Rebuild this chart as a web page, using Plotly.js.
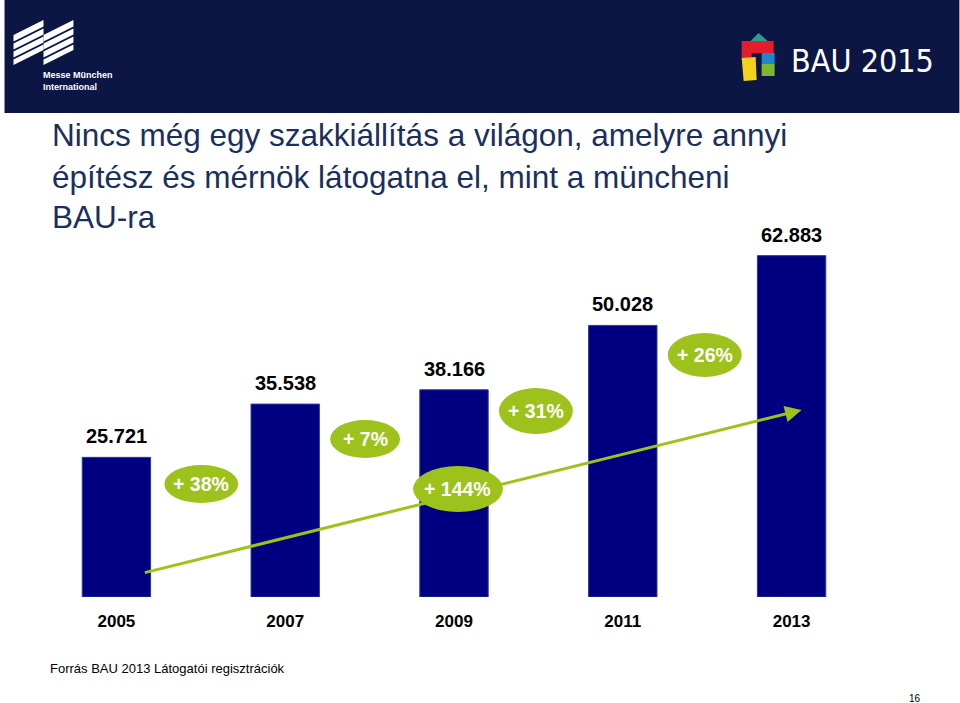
<!DOCTYPE html>
<html>
<head>
<meta charset="utf-8">
<script src="https://cdn.plot.ly/plotly-3.0.1.min.js"></script>
<style>html,body{margin:0;padding:0;background:#fff;}#chart{width:960px;height:703px;}</style>
</head>
<body>
<div id="chart"></div>
<script>
// ---- data ----
const years = ["2005", "2007", "2009", "2011", "2013"];
const visitors = [25721, 35538, 38166, 50028, 62883];
const growthLabels = ["+ 38%", "+ 7%", "+ 144%", "+ 31%", "+ 26%"];
const titleLines = [
  "Nincs még egy szakkiállítás a világon, amelyre annyi",
  "építész és mérnök látogatna el, mint a müncheni",
  "BAU-ra"
];
const sourceText = "Forrás BAU 2013 Látogatói regisztrációk";
const pageNo = "16";

// ---- layout helpers (pixel -> paper) ----
const L = 31.5, R = 876.5, T = 217, B = 597;
const W = R - L, H = B - T;
const px = p => (p - L) / W;
const py = p => (B - p) / H;

const navy = "#000080";
const green = "#9cc21b";
const header = "#0b1645";
const titleColor = "#1a2f5f";

// ellipse placements (layout only): cx, cy, rx, ry
const ellipsePos = [
  [201, 484, 37, 19],
  [365, 439, 35, 19],
  [458, 489, 45, 23],
  [536, 411, 37, 23],
  [705, 355, 37, 22]
];

const shapes = [];
const annotations = [];

// header band
shapes.push({type: "rect", xref: "paper", yref: "paper", x0: px(4), x1: px(960), y0: py(0), y1: py(113),
  fillcolor: header, line: {width: 0}, layer: "below"});

// Messe München stripes logo
function stripeGroup(Lx) {
  const bands = [[0, 6.5], [8.5, 14.5], [16.5, 22.5], [24.5, 30]];
  bands.forEach(([a, b]) => {
    const p = [[Lx, 35 + a], [Lx + 30, 20 + a], [Lx + 30, 20 + b], [Lx, 35 + b]];
    const path = "M" + p.map(q => px(q[0]) + "," + py(q[1])).join(" L") + " Z";
    shapes.push({type: "path", xref: "paper", yref: "paper", path: path, fillcolor: "#ffffff", line: {width: 0}});
  });
}
stripeGroup(13);
stripeGroup(43);
annotations.push({xref: "paper", yref: "paper", x: px(41), y: py(75), xanchor: "left", yanchor: "middle",
  text: "<b>Messe München</b>", showarrow: false, font: {family: "Arial, Liberation Sans", size: 9, color: "#fff"}});
annotations.push({xref: "paper", yref: "paper", x: px(41), y: py(87), xanchor: "left", yanchor: "middle",
  text: "<b>International</b>", showarrow: false, font: {family: "Arial, Liberation Sans", size: 9, color: "#fff"}});

// BAU logo blocks
function rectPx(x0, y0, x1, y1, c) {
  shapes.push({type: "rect", xref: "paper", yref: "paper", x0: px(x0), x1: px(x1), y0: py(y1), y1: py(y0),
    fillcolor: c, line: {width: 0}});
}
function polyPx(pts, c) {
  const path = "M" + pts.map(q => px(q[0]) + "," + py(q[1])).join(" L") + " Z";
  shapes.push({type: "path", xref: "paper", yref: "paper", path: path, fillcolor: c, line: {width: 0}});
}
polyPx([[750, 42], [759, 33], [769, 42]], "#2aa08a");
rectPx(742, 41, 774, 53, "#e31d2b");
rectPx(742, 53, 752, 58, "#e31d2b");
polyPx([[742, 58], [756, 57], [757, 80], [744, 81]], "#f2d21c");
rectPx(762, 53, 775, 64, "#1f86c9");
rectPx(762, 64, 775, 76, "#7cb82f");
annotations.push({xref: "paper", yref: "paper", x: px(789), y: py(61), xanchor: "left", yanchor: "middle",
  text: "BAU 2015", showarrow: false,
  font: {family: "DejaVu Sans Condensed, Arial", size: 32, color: "#fff"}});

// title lines
const titleBase = [135, 177, 217];
titleLines.forEach((t, i) => {
  annotations.push({xref: "paper", yref: "paper", x: px(50), y: py(titleBase[i]), xanchor: "left", yanchor: "middle",
    text: t, showarrow: false, font: {family: "Arial, Liberation Sans", size: 31.5, color: titleColor}});
});

// value labels (category index positions)
visitors.forEach((v, i) => {
  annotations.push({x: i, y: v, xref: "x", yref: "y", yanchor: "bottom", yshift: 8,
    text: "<b>" + String(v).replace(/\B(?=(\d{3})+(?!\d))/g, ".") + "</b>", showarrow: false,
    font: {family: "Arial, Liberation Sans", size: 20, color: "#000"}});
});

// growth arrow
annotations.push({xref: "paper", yref: "paper", axref: "paper", ayref: "paper",
  x: px(802), y: py(410), ax: px(143), ay: py(573), text: "", showarrow: true,
  arrowcolor: green, arrowwidth: 3, arrowhead: 2, arrowsize: 1.1});

// growth ellipses
growthLabels.forEach((g, i) => {
  const [cx, cy, rx, ry] = ellipsePos[i];
  shapes.push({type: "circle", xref: "paper", yref: "paper", x0: px(cx - rx), x1: px(cx + rx), y0: py(cy + ry), y1: py(cy - ry),
    fillcolor: green, line: {width: 0}});
  annotations.push({xref: "paper", yref: "paper", x: px(cx), y: py(cy), xanchor: "center", yanchor: "middle",
    text: "<b>" + g + "</b>", showarrow: false, font: {family: "Arial, Liberation Sans", size: 19.5, color: "#fff"}});
});

// source + page
annotations.push({xref: "paper", yref: "paper", x: px(48), y: py(668), xanchor: "left", yanchor: "middle",
  text: sourceText, showarrow: false, font: {family: "Arial, Liberation Sans", size: 13, color: "#000"}});
annotations.push({xref: "paper", yref: "paper", x: px(916), y: py(698), xanchor: "center", yanchor: "middle",
  text: pageNo, showarrow: false, font: {family: "Arial, Liberation Sans", size: 10, color: "#000"}});

const trace = {
  type: "bar", x: years, y: visitors, width: 0.405,
  marker: {color: navy, line: {color: "#2a3a9c", width: 1}},
  hoverinfo: "none"
};

const layout = {
  width: 960, height: 703,
  margin: {l: L, r: 960 - R, t: T, b: 703 - B, pad: 0},
  paper_bgcolor: "#fff", plot_bgcolor: "rgba(0,0,0,0)",
  showlegend: false,
  xaxis: {type: "category", range: [-0.5, 4.5], showgrid: false, zeroline: false, showline: false, ticks: "",
    tickfont: {family: "Arial, Liberation Sans", size: 17, color: "#000", weight: "bold"}, ticklabelstandoff: 12, fixedrange: true},
  yaxis: {range: [0, 70000], visible: false, fixedrange: true},
  shapes: shapes,
  annotations: annotations
};

Plotly.newPlot("chart", [trace], layout, {staticPlot: true, displayModeBar: false});
</script>
</body>
</html>
